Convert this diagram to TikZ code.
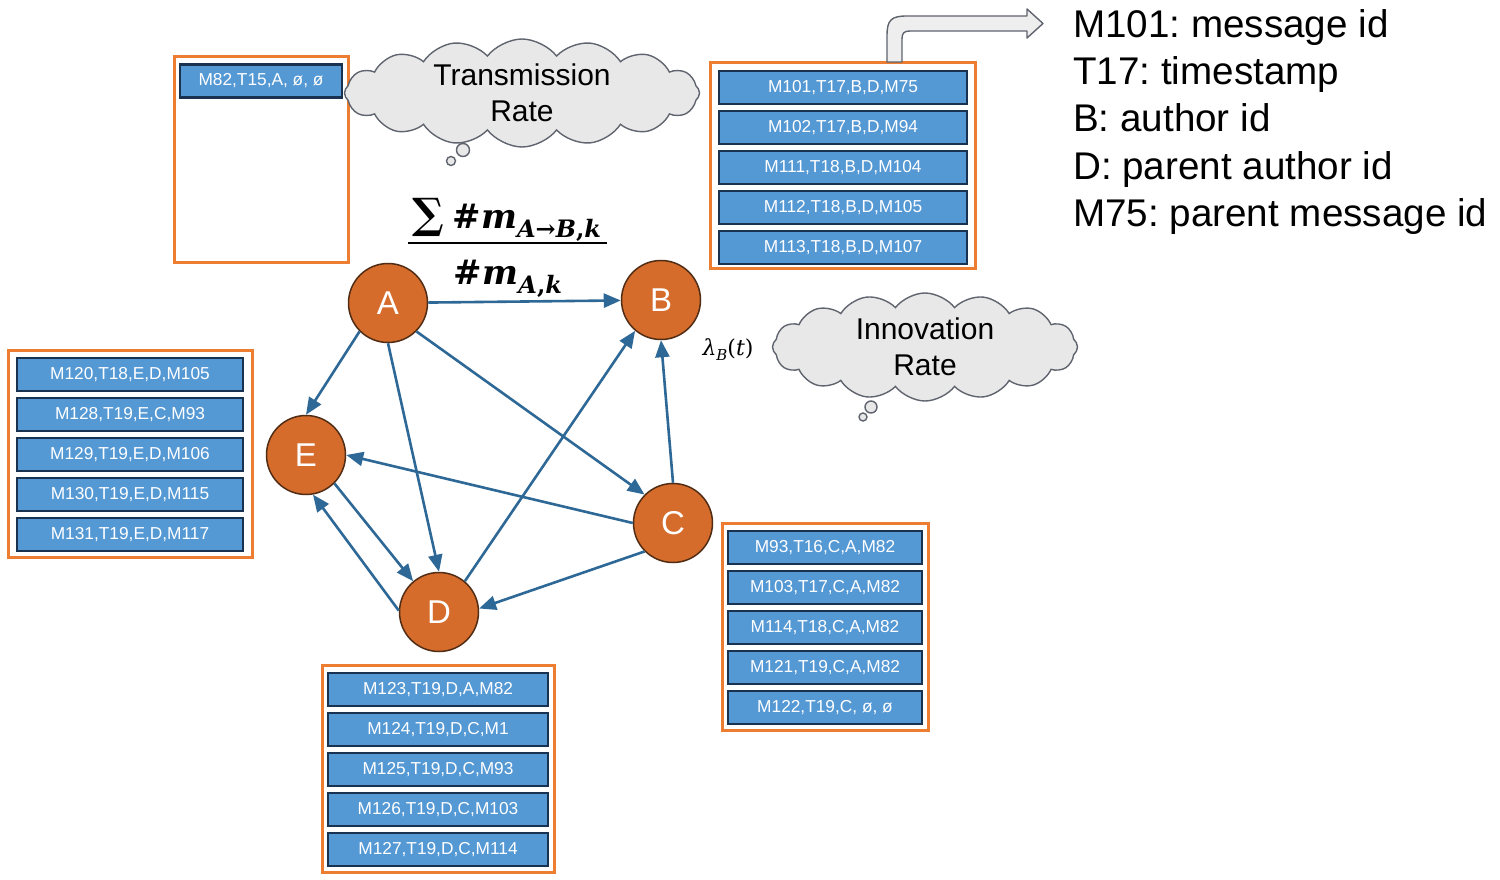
\documentclass[tikz,border=0pt]{standalone}
\usepackage[no-math]{fontspec}
\setmainfont{Liberation Sans}
\newfontfamily\mfont{DejaVu Serif}
\usetikzlibrary{arrows.meta,shapes.symbols}
\frenchspacing
\definecolor{frameor}{RGB}{237,125,49}
\definecolor{circfill}{RGB}{214,108,44}
\definecolor{circline}{RGB}{80,45,20}
\definecolor{barfill}{RGB}{84,152,212}
\definecolor{barline}{RGB}{25,50,80}
\definecolor{edgecol}{RGB}{46,104,150}
\definecolor{cloudfill}{RGB}{232,232,232}
\definecolor{cloudline}{RGB}{95,100,110}
\definecolor{arrfill}{RGB}{238,238,238}
\newcommand{\subtx}[1]{\raisebox{-9pt}{\fontsize{24}{24}\selectfont #1}}
\newcommand{\numertx}{{\fontsize{42}{42}\selectfont\upshape ∑}\hspace{8pt}{\upshape\#}\textit{m}\subtx{\textit{A}{\upshape →}\textit{B}{\upshape ,}\textit{k}}}
\newcommand{\denomtx}{{\upshape\#}\textit{m}\subtx{\textit{A}{\upshape ,}\textit{k}}}
\newcommand{\lamtx}{\textit{λ}\raisebox{-5pt}{\fontsize{15}{15}\selectfont\textit{B}}(\textit{t})}
\begin{document}
\frenchspacing
\begin{tikzpicture}[x=1pt,y=-1pt,
 frame/.style={draw=frameor,line width=3pt,fill=white,inner sep=0pt},
 bar/.style={draw=barline,line width=2.4pt,fill=barfill,text=white,inner sep=0pt,minimum height=33pt,font=\fontsize{17.3}{20}\selectfont},
 vert/.style={circle,draw=circline,line width=1.5pt,fill=circfill,text=white,minimum size=79pt,inner sep=0pt,font=\fontsize{33}{38}\selectfont},
 edge/.style={draw=edgecol,line width=2.6pt,-{Triangle[length=17pt,width=14pt]}},
 thought/.style={cloud,cloud puffs=16,cloud puff arc=105,cloud ignores aspect,draw=cloudline,line width=1.4pt,fill=cloudfill,align=center,font=\fontsize{30}{36}\selectfont,inner sep=0pt},
 bubble/.style={circle,draw=cloudline,line width=1.4pt,fill=cloudfill,inner sep=0pt},
 legend/.style={anchor=base west,inner sep=0pt,font=\fontsize{38.6}{44}\selectfont},
 mathlbl/.style={inner sep=0pt,anchor=base,font=\mfont\bfseries\fontsize{34}{40}\selectfont},
 lamlbl/.style={inner sep=0pt,anchor=base,font=\mfont\fontsize{22}{26}\selectfont}]

\useasboundingbox[fill=white] (0,0) rectangle (1500,880);

% frames
\node[frame,minimum width=174pt,minimum height=205pt] (fA) at (261,159.5) {};
\node[frame,minimum width=265pt,minimum height=205pt] (fB) at (842.5,165.5) {};
\node[frame,minimum width=244pt,minimum height=207pt] (fE) at (130,453.5) {};
\node[frame,minimum width=206pt,minimum height=207pt] (fC) at (825,626.5) {};
\node[frame,minimum width=232pt,minimum height=207pt] (fD) at (438,768.5) {};

% message bars
\node[bar,minimum width=162pt] (a1) at (261,81) {M82,T15,A, ø, ø};

\node[bar,minimum width=248pt] (b1) at (843,87.5) {M101,T17,B,D,M75};
\node[bar,minimum width=248pt] (b2) at (843,127.5) {M102,T17,B,D,M94};
\node[bar,minimum width=248pt] (b3) at (843,167.5) {M111,T18,B,D,M104};
\node[bar,minimum width=248pt] (b4) at (843,207.5) {M112,T18,B,D,M105};
\node[bar,minimum width=248pt] (b5) at (843,247.5) {M113,T18,B,D,M107};

\node[bar,minimum width=226pt] (e1) at (130,374.5) {M120,T18,E,D,M105};
\node[bar,minimum width=226pt] (e2) at (130,414.5) {M128,T19,E,C,M93};
\node[bar,minimum width=226pt] (e3) at (130,454.5) {M129,T19,E,D,M106};
\node[bar,minimum width=226pt] (e4) at (130,494.5) {M130,T19,E,D,M115};
\node[bar,minimum width=226pt] (e5) at (130,534.5) {M131,T19,E,D,M117};

\node[bar,minimum width=194pt] (c1) at (825,547.5) {M93,T16,C,A,M82};
\node[bar,minimum width=194pt] (c2) at (825,587.5) {M103,T17,C,A,M82};
\node[bar,minimum width=194pt] (c3) at (825,627.5) {M114,T18,C,A,M82};
\node[bar,minimum width=194pt] (c4) at (825,667.5) {M121,T19,C,A,M82};
\node[bar,minimum width=194pt] (c5) at (825,707.5) {M122,T19,C, ø, ø};

\node[bar,minimum width=220pt] (d1) at (438,689.5) {M123,T19,D,A,M82};
\node[bar,minimum width=220pt] (d2) at (438,729.5) {M124,T19,D,C,M1};
\node[bar,minimum width=220pt] (d3) at (438,769.5) {M125,T19,D,C,M93};
\node[bar,minimum width=220pt] (d4) at (438,809.5) {M126,T19,D,C,M103};
\node[bar,minimum width=220pt] (d5) at (438,849.5) {M127,T19,D,C,M114};

% clouds
\node[thought,minimum width=355pt,minimum height=108pt] (tr) at (522,93) {Transmission\\Rate};
\node[bubble,minimum size=13pt] (tr1) at (463,150) {};
\node[bubble,minimum size=9pt] (tr2) at (451,161) {};
\node[thought,minimum width=305pt,minimum height=108pt] (ir) at (925,347) {Innovation\\Rate};
\node[bubble,minimum size=12pt] (ir1) at (871,407) {};
\node[bubble,minimum size=8pt] (ir2) at (863,417) {};

% formula
\node[mathlbl] (numr) at (507,229) {\numertx};
\node[mathlbl] (denr) at (508,284) {\denomtx};
\coordinate (fl) at (408,243);
\coordinate (fr) at (607,243);
\draw[line width=2.6pt] (fl) -- (fr);
\node[lamlbl] (lam) at (728,355) {\lamtx};

% graph nodes
\node[vert] (A) at (388,303) {A};
\node[vert] (B) at (661,300) {B};
\node[vert] (E) at (306,455) {E};
\node[vert] (C) at (673,523) {C};
\node[vert] (D) at (439,612) {D};

\draw[edge] (A) -- (B);
\draw[edge] (A.225) -- (E.north);
\draw[edge] (A.south) -- (D.north);
\draw[edge] (A.-45) -- (C.135);
\draw[edge] (D.50) -- (B.230);
\draw[edge] (C.north) -- (B.south);
\draw[edge] (C.west) -- (E.east);
\draw[edge] (E.-45) -- (D.130);
\draw[edge] (D.178) -- (E.-80);
\draw[edge] (C.225) -- (D.5);

% bent block arrow
\draw[draw=cloudline,line width=1.4pt,fill=arrfill,line join=round]
  (887,62) -- (887,36) .. controls (887,20) and (891,16) .. (907,16) -- (1027,16)
  -- (1027,9) -- (1043,23.5) -- (1027,38) -- (1027,31) -- (910,31)
  .. controls (904,31) and (902,33) .. (902,39) -- (902,62) -- cycle;

% legend
\node[legend] (l1) at (1073,37.5) {M101: message id};
\node[legend] (l2) at (1073,84.5) {T17: timestamp};
\node[legend] (l3) at (1073,131.5) {B: author id};
\node[legend] (l4) at (1073,179) {D: parent author id};
\node[legend] (l5) at (1073,226.5) {M75: parent message id};
\end{tikzpicture}
\end{document}
